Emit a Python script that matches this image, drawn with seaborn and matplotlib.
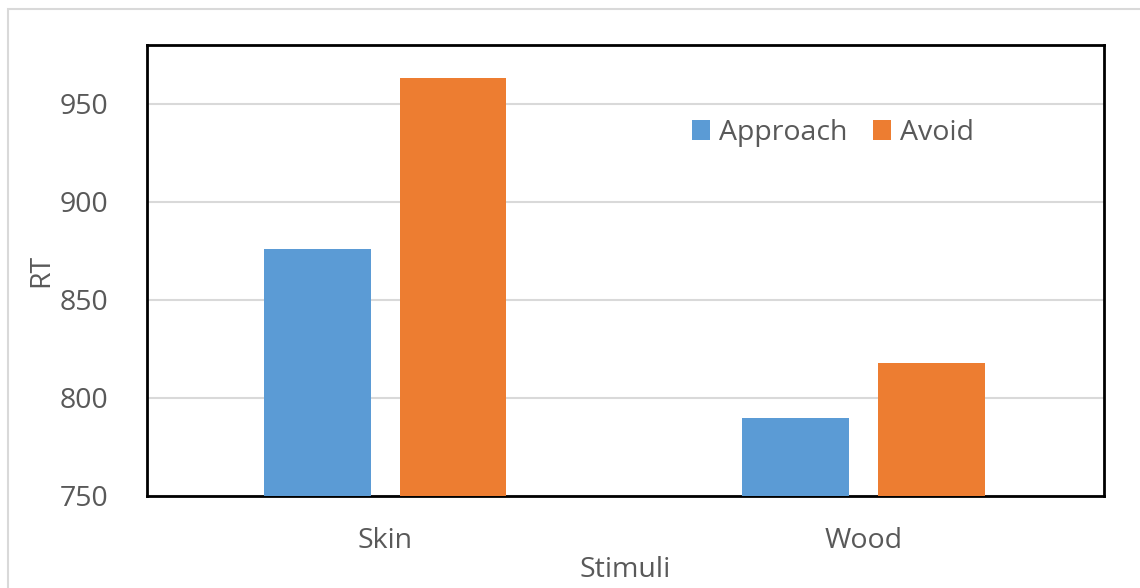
import matplotlib.pyplot as plt
import matplotlib.patches as mpatches
import pandas as pd
import seaborn as sns

STIMULI = ['Skin', 'Wood']
CONDITIONS = ['Approach', 'Avoid']
APPROACH_RT = [876, 790]
AVOID_RT = [963, 818]
COLORS = {'Approach': '#5b9bd5', 'Avoid': '#ed7d31'}
TEXT_GRAY = '#595959'
FS = 20.5


def main():
    df = pd.DataFrame({
        'Stimuli': STIMULI * 2,
        'Condition': ['Approach'] * len(STIMULI) + ['Avoid'] * len(STIMULI),
        'RT': APPROACH_RT + AVOID_RT,
    })

    sns.set_theme(style='white')
    plt.rcParams['font.family'] = ['Open Sans', 'DejaVu Sans']

    fig = plt.figure(figsize=(11.4, 5.88), dpi=100)
    ax = fig.add_axes([147 / 1140, 1 - 496 / 588, 957 / 1140, 451 / 588])

    # light chart-area frame, clipped at right and bottom like the source
    fig.patches.append(mpatches.Rectangle(
        (8 / 1140, -0.1), 1.2, 1 - 9 / 588 + 0.1, transform=fig.transFigure,
        fill=False, edgecolor='#d9d9d9', linewidth=1.5, zorder=0))

    sns.barplot(data=df, x='Stimuli', y='RT', hue='Condition',
                hue_order=CONDITIONS, palette=COLORS, width=0.568, gap=0.213,
                saturation=1, linewidth=0, ax=ax, zorder=3)

    ax.set_ylim(750, 980)
    ax.set_xlim(-0.4975, 1.5025)
    ax.set_yticks([750, 800, 850, 900, 950])
    ax.yaxis.grid(True, color='#d9d9d9', linewidth=1.5, zorder=0)
    ax.set_axisbelow(True)

    for spine in ax.spines.values():
        spine.set_visible(True)
        spine.set_color('black')
        spine.set_linewidth(2)

    ax.tick_params(axis='both', length=0, labelsize=FS, labelcolor=TEXT_GRAY)
    ax.tick_params(axis='y', pad=28)
    ax.tick_params(axis='x', pad=22)
    ax.set_ylabel('RT', fontsize=FS, color=TEXT_GRAY, labelpad=3)
    ax.set_xlabel('Stimuli', fontsize=FS, color=TEXT_GRAY, labelpad=1)

    handles, labels = ax.get_legend_handles_labels()
    ax.legend(handles, labels, loc='center left',
              bbox_to_anchor=(666 / 1140, 1 - 133 / 588),
              bbox_transform=fig.transFigure, ncol=2, frameon=False,
              fontsize=FS, handlelength=0.65, handleheight=0.65,
              handletextpad=0.3, columnspacing=0.9,
              labelcolor=TEXT_GRAY)

    fig.savefig('out.png', dpi=100, facecolor='white')


if __name__ == '__main__':
    main()
